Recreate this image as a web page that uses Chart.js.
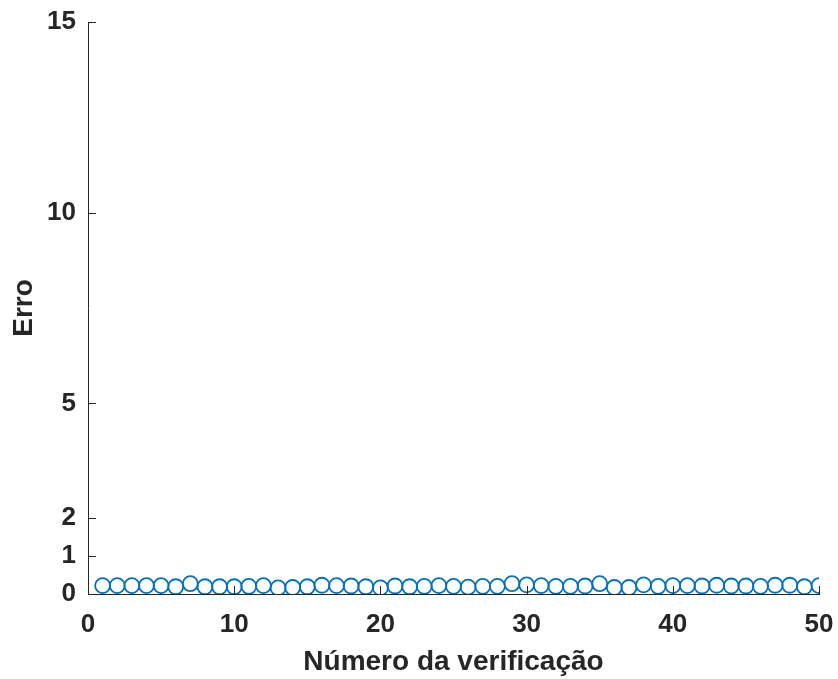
<!DOCTYPE html>
<html>
<head>
<meta charset="utf-8">
<script src="https://cdn.jsdelivr.net/npm/chart.js@4/dist/chart.umd.min.js"></script>
<style>
  html, body { margin: 0; padding: 0; background: #ffffff; }
  #wrap { width: 838px; height: 679px; }
</style>
</head>
<body>
<div id="wrap"><canvas id="c" width="838" height="679"></canvas></div>
<script>
// Verification index and error measured at each verification
const verificacoes = Array.from({ length: 50 }, (_, i) => i + 1);
const erros = [
  0.22, 0.22, 0.22, 0.22, 0.22, 0.19, 0.27, 0.19, 0.19, 0.19,
  0.20, 0.22, 0.16, 0.17, 0.19, 0.23, 0.22, 0.21, 0.19, 0.16,
  0.21, 0.19, 0.20, 0.22, 0.20, 0.18, 0.20, 0.20, 0.27, 0.24,
  0.22, 0.20, 0.20, 0.21, 0.27, 0.17, 0.17, 0.24, 0.20, 0.22,
  0.22, 0.21, 0.23, 0.21, 0.21, 0.20, 0.23, 0.23, 0.19, 0.22
];
const xTicks = [0, 10, 20, 30, 40, 50];
const yTicks = [0, 1, 2, 5, 10, 15];

const axisColor = '#262626';
const markerColor = 'rgb(0,114,189)';
const fontFamily = '"Liberation Sans", Arial, sans-serif';

// Inward-pointing tick marks along the left and bottom axes
const inwardTicks = {
  id: 'inwardTicks',
  afterDraw(chart) {
    const ctx = chart.ctx;
    const x = chart.scales.x, y = chart.scales.y;
    const len = 8;
    ctx.save();
    ctx.strokeStyle = axisColor;
    ctx.lineWidth = 1;
    x.ticks.forEach(t => {
      const px = Math.round(x.getPixelForValue(t.value)) + 0.5;
      ctx.beginPath();
      ctx.moveTo(px, y.bottom);
      ctx.lineTo(px, y.bottom - len);
      ctx.stroke();
    });
    y.ticks.forEach(t => {
      const py = Math.round(y.getPixelForValue(t.value)) + 0.5;
      ctx.beginPath();
      ctx.moveTo(x.left, py);
      ctx.lineTo(x.left + len, py);
      ctx.stroke();
    });
    ctx.restore();
  }
};

new Chart(document.getElementById('c'), {
  type: 'scatter',
  data: {
    datasets: [{
      data: verificacoes.map((v, i) => ({ x: v, y: erros[i] })),
      pointStyle: 'circle',
      pointRadius: 7.5,
      pointHoverRadius: 7.5,
      borderColor: markerColor,
      backgroundColor: 'rgba(0,0,0,0)',
      borderWidth: 1.8,
      showLine: false
    }]
  },
  options: {
    responsive: false,
    animation: false,
    events: [],
    layout: { padding: { top: 22, right: 19, left: 0, bottom: 0 } },
    plugins: { legend: { display: false }, tooltip: { enabled: false } },
    scales: {
      x: {
        type: 'linear',
        min: 0, max: 50,
        afterBuildTicks: s => { s.ticks = xTicks.map(v => ({ value: v })); },
        afterFit: s => { s.height = 85; s.paddingLeft = 0; s.paddingRight = 0; },
        grid: { display: false, drawTicks: false },
        border: { display: true, color: axisColor, width: 1 },
        ticks: {
          color: axisColor,
          padding: 15,
          maxRotation: 0,
          font: { family: fontFamily, size: 26, weight: 'bold' }
        },
        title: {
          display: true,
          text: 'Número da verificação',
          color: axisColor,
          padding: { top: 2, bottom: 0 },
          font: { family: fontFamily, size: 28, weight: 'bold' }
        }
      },
      y: {
        type: 'linear',
        min: 0, max: 15,
        afterBuildTicks: s => { s.ticks = yTicks.map(v => ({ value: v })); },
        afterFit: s => { s.width = 88; s.paddingTop = 0; s.paddingBottom = 0; },
        grid: { display: false, drawTicks: false },
        border: { display: true, color: axisColor, width: 1 },
        ticks: {
          color: axisColor,
          padding: 12,
          font: { family: fontFamily, size: 26, weight: 'bold' }
        },
        title: {
          display: true,
          text: 'Erro',
          color: axisColor,
          padding: { top: 7, bottom: 10 },
          font: { family: fontFamily, size: 28, weight: 'bold' }
        }
      }
    }
  },
  plugins: [inwardTicks]
});
</script>
</body>
</html>
